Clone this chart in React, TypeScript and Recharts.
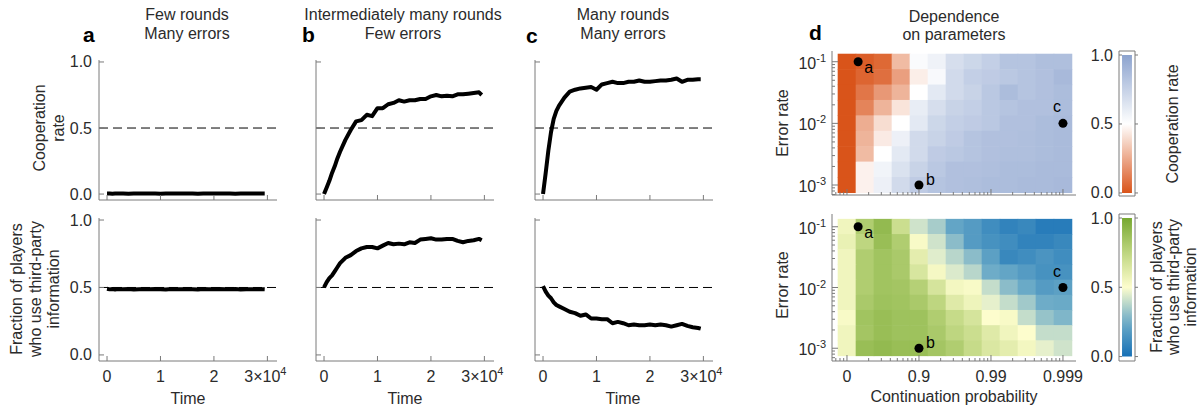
import React from 'react';
import {
    LineChart,
    Line,
    XAxis,
    YAxis,
    ReferenceLine,
    ReferenceArea,
    ScatterChart,
    Scatter,
} from 'recharts';

const FONT = '"Liberation Sans", Arial, Helvetica, sans-serif';
const TXT = '#2b2b2b';
const AX = '#7a7a7a';

// time points (shared by all six curves)
const TIMES = [
    0, 500, 1000, 1500, 2000, 2500, 3000, 4000, 5000, 6000, 7000, 8000, 9000, 10000, 11000, 12000, 13000,
    14000, 15000, 16000, 17000, 18000, 19000, 20000, 21000, 22000, 23000, 24000, 25000, 26000, 27000, 28000,
    29000, 29500,
];
const TIME_TICKS = [0, 10000, 20000, 30000];
const RATE_TICKS = [0, 0.5, 1];

// cooperation rate
const coopA = [
    0.004, 0.004, 0.003, 0.004, 0.005, 0.004, 0.004, 0.003, 0.004, 0.004, 0.005, 0.004, 0.004, 0.003, 0.004, 0.004,
    0.004, 0.005, 0.004, 0.004, 0.003, 0.004, 0.004, 0.004, 0.005, 0.004, 0.004, 0.003, 0.004, 0.004, 0.004, 0.005,
    0.004, 0.004,
];
const coopB = [
    0, 0.05, 0.1, 0.16, 0.21, 0.27, 0.32, 0.41, 0.485, 0.55, 0.56, 0.6, 0.59, 0.65, 0.65, 0.68, 0.69, 0.71, 0.7,
    0.71, 0.71, 0.72, 0.72, 0.74, 0.75, 0.74, 0.745, 0.74, 0.755, 0.755, 0.76, 0.765, 0.77, 0.75,
];
const coopC = [
    0, 0.16, 0.33, 0.47, 0.57, 0.63, 0.67, 0.73, 0.775, 0.79, 0.8, 0.805, 0.81, 0.79, 0.83, 0.84, 0.85, 0.84, 0.84,
    0.85, 0.85, 0.86, 0.85, 0.85, 0.855, 0.86, 0.86, 0.865, 0.875, 0.85, 0.865, 0.865, 0.87, 0.87,
];

// fraction of players who use third-party information
const infoA = [
    0.49, 0.486, 0.488, 0.485, 0.489, 0.487, 0.486, 0.488, 0.485, 0.487, 0.489, 0.486, 0.488, 0.487, 0.485, 0.488,
    0.487, 0.486, 0.489, 0.487, 0.485, 0.488, 0.486, 0.487, 0.489, 0.486, 0.487, 0.488, 0.485, 0.487, 0.486, 0.488,
    0.487, 0.486,
];
const infoB = [
    0.5, 0.54, 0.57, 0.59, 0.62, 0.65, 0.68, 0.72, 0.74, 0.77, 0.79, 0.8, 0.8, 0.79, 0.81, 0.83, 0.82, 0.825, 0.82,
    0.835, 0.83, 0.855, 0.86, 0.865, 0.855, 0.855, 0.86, 0.86, 0.845, 0.835, 0.845, 0.85, 0.86, 0.85,
];
const infoC = [
    0.51, 0.47, 0.44, 0.42, 0.39, 0.37, 0.36, 0.34, 0.32, 0.31, 0.29, 0.3, 0.27, 0.27, 0.265, 0.265, 0.235, 0.245,
    0.235, 0.22, 0.225, 0.22, 0.22, 0.225, 0.22, 0.225, 0.22, 0.21, 0.22, 0.23, 0.215, 0.205, 0.2, 0.195,
];

// heatmaps: rows = error rate 10^-1 .. 10^-3 (quarter decades), cols = -log10(1-p) 0 .. 3 (quarter decades)
const COOP_GRID = [
    [0, 0.03, 0.06, 0.3, 0.52, 0.57, 0.68, 0.72, 0.76, 0.82, 0.82, 0.85, 0.85],
    [0, 0.05, 0.08, 0.22, 0.45, 0.53, 0.7, 0.76, 0.78, 0.8, 0.82, 0.84, 0.88],
    [0, 0.1, 0.2, 0.28, 0.5, 0.62, 0.7, 0.74, 0.8, 0.86, 0.82, 0.84, 0.86],
    [0, 0.14, 0.28, 0.42, 0.6, 0.68, 0.74, 0.76, 0.8, 0.82, 0.84, 0.84, 0.86],
    [0, 0.26, 0.4, 0.5, 0.62, 0.72, 0.76, 0.78, 0.8, 0.84, 0.84, 0.86, 0.87],
    [0, 0.28, 0.44, 0.58, 0.7, 0.74, 0.78, 0.82, 0.84, 0.84, 0.85, 0.86, 0.87],
    [0, 0.3, 0.5, 0.62, 0.7, 0.78, 0.8, 0.82, 0.84, 0.85, 0.85, 0.86, 0.87],
    [0, 0.46, 0.56, 0.66, 0.74, 0.8, 0.84, 0.84, 0.85, 0.86, 0.86, 0.87, 0.87],
    [0, 0.46, 0.58, 0.7, 0.78, 0.82, 0.84, 0.85, 0.86, 0.86, 0.87, 0.87, 0.88],
];
const INFO_GRID = [
    [0.55, 0.8, 0.9, 0.7, 0.42, 0.35, 0.22, 0.18, 0.12, 0.08, 0.1, 0.05, 0.05],
    [0.58, 0.75, 0.88, 0.8, 0.52, 0.42, 0.3, 0.18, 0.14, 0.12, 0.08, 0.08, 0.1],
    [0.55, 0.8, 0.85, 0.82, 0.6, 0.45, 0.38, 0.3, 0.2, 0.1, 0.12, 0.15, 0.12],
    [0.55, 0.8, 0.85, 0.82, 0.65, 0.53, 0.44, 0.38, 0.25, 0.22, 0.18, 0.14, 0.14],
    [0.55, 0.8, 0.85, 0.84, 0.78, 0.66, 0.54, 0.52, 0.4, 0.3, 0.24, 0.18, 0.2],
    [0.55, 0.82, 0.86, 0.85, 0.82, 0.75, 0.62, 0.56, 0.46, 0.4, 0.34, 0.25, 0.24],
    [0.52, 0.85, 0.88, 0.86, 0.86, 0.8, 0.72, 0.66, 0.5, 0.52, 0.4, 0.32, 0.28],
    [0.55, 0.84, 0.88, 0.86, 0.86, 0.82, 0.75, 0.7, 0.62, 0.55, 0.5, 0.4, 0.4],
    [0.55, 0.88, 0.9, 0.88, 0.88, 0.84, 0.8, 0.72, 0.64, 0.6, 0.54, 0.46, 0.42],
];
const P_TICKS = [0, 1, 2, 3];
const P_LABELS = ['0', '0.9', '0.99', '0.999'];
const E_TICKS = [-1, -2, -3];

// example points a, b, c
const MARKS = [
    { x: 0.155, y: -1, label: 'a' },
    { x: 1, y: -3, label: 'b' },
    { x: 3, y: -2, label: 'c' },
];
const MARK_OFFSET: Record<string, [number, number]> = { a: [6, 11], b: [7, 0], c: [-10, -11] };

const COOP_STOPS: [number, number[]][] = [
    [0, [217, 84, 26]],
    [0.5, [255, 255, 255]],
    [1, [140, 163, 206]],
];
const INFO_STOPS: [number, number[]][] = [
    [0, [22, 112, 182]],
    [0.25, [110, 172, 200]],
    [0.5, [253, 253, 205]],
    [0.75, [190, 214, 128]],
    [1, [118, 168, 48]],
];

const makeScale = (stops: [number, number[]][]) => (v: number) => {
    for (let i = 1; i < stops.length; i++) {
        if (v <= stops[i][0] || i === stops.length - 1) {
            const [a, ca] = stops[i - 1];
            const [b, cb] = stops[i];
            const f = Math.max(0, Math.min(1, (v - a) / (b - a)));
            const c = ca.map((q, k) => Math.round(q + (cb[k] - q) * f));
            return `rgb(${c[0]},${c[1]},${c[2]})`;
        }
    }
    return '#fff';
};
const coopColor = makeScale(COOP_STOPS);
const infoColor = makeScale(INFO_STOPS);

const PLOT_W = 178;
const ROWS = {
    top: { plotTop: 60, plotH: 140 },
    bottom: { plotTop: 218, plotH: 143 },
};

const txt = { fontFamily: FONT, fontSize: 16, fill: TXT };

const RateTick = (props: any) => {
    const { x, y, payload, showLabel } = props;
    return (
        <g>
            <line x1={x} x2={x + 5} y1={y} y2={y} stroke={AX} />
            {showLabel && (
                <text x={x - 7} y={y + 5.5} textAnchor="end" {...txt}>
                    {Number(payload.value).toFixed(1)}
                </text>
            )}
        </g>
    );
};

const TimeTick = (props: any) => {
    const { x, y, payload, showLabel } = props;
    const k = payload.value / 10000;
    return (
        <g>
            <line x1={x} x2={x} y1={y} y2={y - 5} stroke={AX} />
            {showLabel &&
                (k === 3 ? (
                    <text x={x - 2} y={y + 21} textAnchor="middle" {...txt}>
                        3×10
                        <tspan dy={-7} fontSize={11}>
                            4
                        </tspan>
                    </text>
                ) : (
                    <text x={x} y={y + 21} textAnchor="middle" {...txt}>
                        {k}
                    </text>
                ))}
        </g>
    );
};

const LinePanel = ({ left, row, vals, yLabels, xLabels }: any) => {
    const ml = 45;
    const mr = 28;
    const mt = 10;
    const xh = xLabels ? 40 : 8;
    const data = TIMES.map((t, i) => ({ t, v: vals[i] }));
    return (
        <div style={{ position: 'absolute', left: left - ml, top: row.plotTop - mt }}>
            <LineChart
                width={ml + PLOT_W + mr}
                height={mt + row.plotH + xh}
                data={data}
                margin={{ top: mt, right: mr, left: 0, bottom: 0 }}
            >
                <XAxis
                    type="number"
                    dataKey="t"
                    domain={[-1500, 31800]}
                    ticks={TIME_TICKS}
                    interval={0}
                    height={xh}
                    tickSize={0}
                    tickMargin={0}
                    tickLine={false}
                    axisLine={{ stroke: AX }}
                    allowDataOverflow
                    tick={(p: any) => <TimeTick {...p} showLabel={xLabels} />}
                />
                <YAxis
                    type="number"
                    domain={[-0.045, 1.015]}
                    ticks={RATE_TICKS}
                    interval={0}
                    width={ml}
                    tickSize={0}
                    tickMargin={0}
                    tickLine={false}
                    axisLine={{ stroke: AX }}
                    allowDataOverflow
                    tick={(p: any) => <RateTick {...p} showLabel={yLabels} />}
                />
                <ReferenceLine y={0.5} stroke="#000" strokeDasharray="9 5" />
                <Line
                    type="linear"
                    dataKey="v"
                    stroke="#000"
                    strokeWidth={4}
                    strokeLinejoin="round"
                    dot={false}
                    isAnimationActive={false}
                />
            </LineChart>
        </div>
    );
};

// minor ticks of log style axes
const isMajor = (v: number) => Math.abs(v - Math.round(v)) < 1e-6;
const logTicks = (lo: number, hi: number) => {
    const out: number[] = [];
    for (let d = Math.floor(lo) - 1; d <= Math.ceil(hi); d++) {
        for (let k = 1; k <= 9; k++) {
            const v = d + Math.log10(k);
            if (v >= lo && v <= hi) out.push(v);
        }
    }
    return out;
};

const HEAT_LEFT = 832;
const HEAT_W = 244;
const P_DOMAIN: [number, number] = [-0.208, 3.181];

const HeatPanel = ({ top, plotH, eDomain, grid, colorFn, xLabels }: any) => {
    const ml = 62;
    const mr = 8;
    const mt = 8;
    const xh = xLabels ? 30 : 8;
    const cw = (HEAT_W / (P_DOMAIN[1] - P_DOMAIN[0])) * 0.25;
    const ch = (plotH / (eDomain[1] - eDomain[0])) * 0.25;
    const cells = grid.flatMap((r: number[], ri: number) => r.map((v, ci) => ({ x: ci / 4, y: -1 - ri / 4, v })));
    const xt = logTicks(P_DOMAIN[0], P_DOMAIN[1]);
    const yt = logTicks(eDomain[0], eDomain[1]);
    const common = { tickSize: 0, tickMargin: 0, tickLine: false, axisLine: { stroke: AX }, allowDataOverflow: true, interval: 0 as const };
    return (
        <div style={{ position: 'absolute', left: HEAT_LEFT - ml, top: top - mt }}>
            <ScatterChart
                width={ml + HEAT_W + mr}
                height={mt + plotH + xh}
                margin={{ top: mt, right: mr, left: 0, bottom: 0 }}
            >
                <XAxis
                    xAxisId="b"
                    type="number"
                    dataKey="x"
                    domain={P_DOMAIN}
                    ticks={xt}
                    height={xh}
                    {...common}
                    tick={(p: any) => {
                        const v = p.payload.value;
                        const maj = isMajor(v);
                        return (
                            <g>
                                <line x1={p.x} x2={p.x} y1={p.y} y2={p.y - (maj ? 6 : 3)} stroke={AX} />
                                {xLabels && maj && (
                                    <text x={p.x} y={p.y + 21} textAnchor="middle" {...txt}>
                                        {P_LABELS[P_TICKS.indexOf(Math.round(v))]}
                                    </text>
                                )}
                            </g>
                        );
                    }}
                />
                <XAxis
                    xAxisId="t"
                    orientation="top"
                    type="number"
                    dataKey="x"
                    domain={P_DOMAIN}
                    ticks={xt}
                    height={0}
                    {...common}
                    tick={(p: any) => (
                        <line x1={p.x} x2={p.x} y1={p.y} y2={p.y + (isMajor(p.payload.value) ? 6 : 3)} stroke={AX} />
                    )}
                />
                <YAxis
                    yAxisId="l"
                    type="number"
                    dataKey="y"
                    domain={eDomain}
                    ticks={yt}
                    width={ml}
                    {...common}
                    tick={(p: any) => {
                        const v = p.payload.value;
                        const maj = isMajor(v);
                        return (
                            <g>
                                <line x1={p.x} x2={p.x + (maj ? 6 : 3)} y1={p.y} y2={p.y} stroke={AX} />
                                {maj && E_TICKS.includes(Math.round(v)) && (
                                    <text x={p.x - 6} y={p.y + 7} textAnchor="end" {...txt}>
                                        10
                                        <tspan dy={-7} fontSize={11}>
                                            {String(Math.round(v))}
                                        </tspan>
                                    </text>
                                )}
                            </g>
                        );
                    }}
                />
                <YAxis
                    yAxisId="r"
                    orientation="right"
                    type="number"
                    dataKey="y"
                    domain={eDomain}
                    ticks={yt}
                    width={0}
                    {...common}
                    tick={(p: any) => (
                        <line x1={p.x} x2={p.x - (isMajor(p.payload.value) ? 6 : 3)} y1={p.y} y2={p.y} stroke={AX} />
                    )}
                />
                <Scatter
                    xAxisId="b"
                    yAxisId="l"
                    data={cells}
                    isAnimationActive={false}
                    shape={(p: any) => (
                        <rect
                            x={p.cx - cw / 2 - 0.3}
                            y={p.cy - ch / 2 - 0.3}
                            width={cw + 0.6}
                            height={ch + 0.6}
                            fill={colorFn(p.payload.v)}
                        />
                    )}
                />
                <Scatter
                    xAxisId="t"
                    yAxisId="r"
                    data={MARKS}
                    isAnimationActive={false}
                    shape={(p: any) => {
                        const [dx, dy] = MARK_OFFSET[p.payload.label];
                        return (
                            <g>
                                <circle cx={p.cx} cy={p.cy} r={4.5} fill="#000" />
                                <text x={p.cx + dx} y={p.cy + dy} {...txt} fill="#000">
                                    {p.payload.label}
                                </text>
                            </g>
                        );
                    }}
                />
            </ScatterChart>
        </div>
    );
};

const ColorBar = ({ top, plotH, domain, colorFn, id }: any) => {
    const ml = 40;
    const w = 16;
    const stops = [0, 0.1, 0.2, 0.3, 0.4, 0.5, 0.6, 0.7, 0.8, 0.9, 1];
    return (
        <div style={{ position: 'absolute', left: 1119 - ml, top: top - 8 }}>
            <ScatterChart width={ml + w + 6} height={plotH + 16} margin={{ top: 8, right: 6, left: 0, bottom: 8 }}>
                <defs>
                    <linearGradient id={id} x1="0" y1="1" x2="0" y2="0">
                        {stops.map((s) => (
                            <stop key={s} offset={s} stopColor={colorFn(s)} />
                        ))}
                    </linearGradient>
                </defs>
                <XAxis type="number" dataKey="x" domain={[0, 1]} hide allowDataOverflow />
                <YAxis
                    type="number"
                    dataKey="y"
                    domain={domain}
                    ticks={RATE_TICKS}
                    interval={0}
                    width={ml}
                    tickSize={0}
                    tickMargin={0}
                    tickLine={false}
                    axisLine={false}
                    allowDataOverflow
                    tick={(p: any) => (
                        <g>
                            <line x1={p.x} x2={p.x + 3} y1={p.y} y2={p.y} stroke={AX} />
                            <line x1={p.x + w} x2={p.x + w + 3} y1={p.y} y2={p.y} stroke={AX} />
                            <text x={p.x - 6} y={p.y + 5.5} textAnchor="end" {...txt}>
                                {Number(p.payload.value).toFixed(1)}
                            </text>
                        </g>
                    )}
                />
                <ReferenceArea x1={0} x2={1} y1={domain[0]} y2={domain[1]} fill="#fff" fillOpacity={1} stroke={AX} />
                <ReferenceArea x1={0.19} x2={0.81} y1={0} y2={1} fill={`url(#${id})`} fillOpacity={1} stroke="none" />
                <Scatter data={[]} isAnimationActive={false} />
            </ScatterChart>
        </div>
    );
};

// rotated (bottom-to-top) multi-line label; x = baseline of first line, y = centre
const VText = ({ x, y, lines, gap }: any) => (
    <g transform={`rotate(-90, ${x}, ${y})`}>
        {lines.map((s: string, i: number) => (
            <text key={s} x={x} y={y + i * gap} textAnchor="middle" {...txt}>
                {s}
            </text>
        ))}
    </g>
);

const App = () => {
    return (
        <div
            style={{
                position: 'absolute',
                left: 0,
                top: 0,
                width: 1203,
                height: 411,
                background: '#fff',
                fontFamily: FONT,
                overflow: 'hidden',
            }}
        >
            {/* line charts */}
            <LinePanel left={99} row={ROWS.top} vals={coopA} yLabels xLabels={false} />
            <LinePanel left={316} row={ROWS.top} vals={coopB} yLabels={false} xLabels={false} />
            <LinePanel left={535} row={ROWS.top} vals={coopC} yLabels={false} xLabels={false} />
            <LinePanel left={99} row={ROWS.bottom} vals={infoA} yLabels xLabels />
            <LinePanel left={316} row={ROWS.bottom} vals={infoB} yLabels={false} xLabels />
            <LinePanel left={535} row={ROWS.bottom} vals={infoC} yLabels={false} xLabels />

            {/* heatmaps */}
            <HeatPanel top={51} plotH={144} eDomain={[-3.162, -0.826]} grid={COOP_GRID} colorFn={coopColor} xLabels={false} />
            <HeatPanel top={214} plotH={147} eDomain={[-3.21, -0.79]} grid={INFO_GRID} colorFn={infoColor} xLabels />

            {/* colour bars */}
            <ColorBar top={51} plotH={145} domain={[-0.022, 1.029]} colorFn={coopColor} id="gCoop" />
            <ColorBar top={214} plotH={147} domain={[-0.032, 1.029]} colorFn={infoColor} id="gInfo" />

            {/* titles and axis labels */}
            <svg width={1203} height={411} style={{ position: 'absolute', left: 0, top: 0, pointerEvents: 'none' }}>
                <text x={187} y={20} textAnchor="middle" {...txt}>Few rounds</text>
                <text x={187} y={39} textAnchor="middle" {...txt}>Many errors</text>
                <text x={403} y={20} textAnchor="middle" {...txt}>Intermediately many rounds</text>
                <text x={403} y={39} textAnchor="middle" {...txt}>Few errors</text>
                <text x={623} y={20} textAnchor="middle" {...txt}>Many rounds</text>
                <text x={623} y={39} textAnchor="middle" {...txt}>Many errors</text>
                <text x={954} y={22} textAnchor="middle" {...txt}>Dependence</text>
                <text x={954} y={40} textAnchor="middle" {...txt}>on parameters</text>

                <text x={83} y={42} {...txt} fontSize={21} fontWeight="bold" fill="#000">a</text>
                <text x={302} y={42} {...txt} fontSize={21} fontWeight="bold" fill="#000">b</text>
                <text x={526} y={43} {...txt} fontSize={21} fontWeight="bold" fill="#000">c</text>
                <text x={809} y={40} {...txt} fontSize={21} fontWeight="bold" fill="#000">d</text>

                <VText x={44.5} y={128} lines={['Cooperation', 'rate']} gap={19} />
                <VText x={22} y={289} lines={['Fraction of players', 'who use third-party', 'information']} gap={18.5} />

                <text x={188} y={404} textAnchor="middle" {...txt}>Time</text>
                <text x={405} y={404} textAnchor="middle" {...txt}>Time</text>
                <text x={623} y={404} textAnchor="middle" {...txt}>Time</text>

                <VText x={788} y={123} lines={['Error rate']} gap={18} />
                <VText x={788} y={285} lines={['Error rate']} gap={18} />
                <text x={954} y={402} textAnchor="middle" {...txt}>Continuation probability</text>

                <VText x={1178} y={124} lines={['Cooperation rate']} gap={18} />
                <VText x={1161.5} y={287} lines={['Fraction of players', 'who use third-party', 'information']} gap={17} />
            </svg>
        </div>
    );
};

export default App;
